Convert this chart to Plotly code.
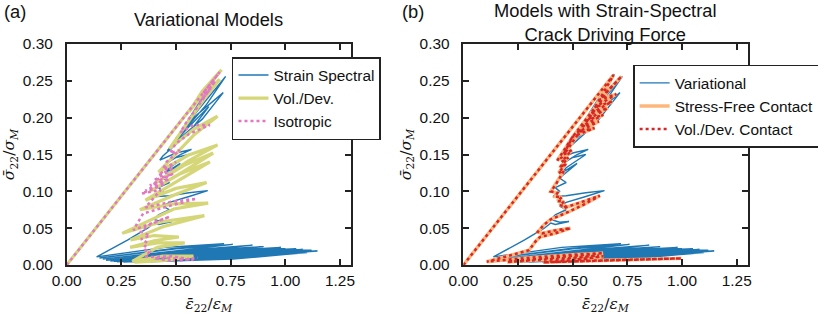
import plotly.graph_objects as go

# ---------------- data ----------------
# Panel (a) / (b): strain-spectral variational model (blue)
spec_x = [0.000, 0.690, 0.610, 0.530, 0.520, 0.600, 0.727, 0.640, 0.530, 0.500,
          0.580, 0.716, 0.620, 0.490, 0.460, 0.550, 0.650, 0.560, 0.440, 0.426,
          0.500, 0.571, 0.520, 0.455, 0.500, 0.560, 0.470, 0.450, 0.520, 0.440,
          0.470, 0.420, 0.440, 0.410, 0.470, 0.560, 0.645, 0.560, 0.470, 0.440,
          0.470, 0.420, 0.400, 0.440, 0.483, 0.420, 0.400, 0.370, 0.280, 0.137,
          0.450, 0.720, 0.480,
          0.150, 0.500, 0.760, 0.450,
          0.165, 0.550, 0.850, 0.500,
          0.180, 0.580, 0.900, 0.520,
          0.200, 0.620, 0.980, 0.560,
          0.215, 0.650, 1.050, 0.600,
          0.230, 0.700, 1.147, 0.700,
          0.260, 0.720, 1.100, 0.720,
          0.300, 0.760, 1.060, 0.760,
          0.360, 0.800, 1.020, 0.720,
          0.420, 0.800, 1.080, 0.750,
          0.400, 0.780, 1.120, 0.700,
          0.420, 0.750, 1.000, 0.650,
          0.450, 0.700, 0.950, 0.600,
          0.400, 0.650, 0.900, 0.550,
          0.450, 0.850, 1.100, 0.800,
          0.500, 0.900, 1.050, 0.850, 0.600]
spec_y = [0.000, 0.259, 0.222, 0.186, 0.180, 0.210, 0.256, 0.218, 0.180, 0.172,
          0.200, 0.234, 0.198, 0.165, 0.155, 0.185, 0.215, 0.180, 0.148, 0.1425,
          0.152, 0.157, 0.150, 0.138, 0.146, 0.150, 0.132, 0.125, 0.138, 0.118,
          0.112, 0.105, 0.100, 0.093, 0.094, 0.098, 0.101, 0.093, 0.085, 0.080,
          0.075, 0.068, 0.062, 0.058, 0.059, 0.055, 0.057, 0.050, 0.034, 0.011,
          0.024, 0.029, 0.022,
          0.0095, 0.022, 0.028, 0.018,
          0.008, 0.020, 0.027, 0.016,
          0.0065, 0.019, 0.025, 0.014,
          0.0055, 0.018, 0.024, 0.013,
          0.005, 0.017, 0.022, 0.011,
          0.0045, 0.016, 0.019, 0.010,
          0.004, 0.015, 0.018, 0.009,
          0.004, 0.014, 0.016, 0.008,
          0.0045, 0.013, 0.015, 0.008,
          0.005, 0.017, 0.021, 0.014,
          0.008, 0.020, 0.020, 0.016,
          0.010, 0.022, 0.022, 0.018,
          0.012, 0.023, 0.021, 0.015,
          0.009, 0.019, 0.019, 0.012,
          0.007, 0.016, 0.017, 0.011,
          0.009, 0.013, 0.018, 0.019, 0.020]

# Panel (a): Vol./Dev. (olive)
vd_x = [0.000, 0.708, 0.620,
        0.560, 0.630, 0.700, 0.630,
        0.470, 0.580, 0.690, 0.580,
        0.420, 0.555, 0.690, 0.555,
        0.400, 0.535, 0.670, 0.535,
        0.380, 0.520, 0.655, 0.520,
        0.360, 0.500, 0.640, 0.500,
        0.335, 0.490, 0.647, 0.490,
        0.254, 0.440, 0.630, 0.440,
        0.292, 0.400, 0.513, 0.400,
        0.290, 0.415, 0.540, 0.415,
        0.300, 0.440, 0.580, 0.440, 0.310]
vd_y = [0.000, 0.265, 0.236,
        0.208, 0.234, 0.252, 0.226,
        0.158, 0.184, 0.202, 0.176,
        0.126, 0.149, 0.163, 0.141,
        0.110, 0.135, 0.152, 0.127,
        0.100, 0.124, 0.140, 0.116,
        0.088, 0.104, 0.112, 0.096,
        0.075, 0.083, 0.084, 0.076,
        0.043, 0.059, 0.067, 0.052,
        0.034, 0.040, 0.038, 0.033,
        0.024, 0.030, 0.030, 0.024,
        0.005, 0.012, 0.012, 0.006, 0.004]

# Panel (a): Isotropic (pink dotted)
iso_x = [0.000, 0.700, 0.620, 0.660, 0.610, 0.680, 0.600, 0.550, 0.520, 0.580,
         0.655, 0.560, 0.500, 0.472, 0.518, 0.457,
         0.440, 0.500, 0.420, 0.490, 0.400, 0.487, 0.380, 0.470, 0.360, 0.450, 0.343, 0.430,
         0.360, 0.480, 0.594, 0.480, 0.350, 0.320, 0.305, 0.400, 0.472, 0.380,
         0.340, 0.380, 0.340, 0.370, 0.350, 0.380, 0.360, 0.395, 0.480, 0.580,
         0.450, 0.400, 0.500, 0.600]
iso_y = [0.000, 0.262, 0.232, 0.240, 0.222, 0.250, 0.215, 0.195, 0.180, 0.190,
         0.190, 0.178, 0.165, 0.152, 0.156, 0.140,
         0.130, 0.140, 0.122, 0.132, 0.115, 0.124, 0.108, 0.117, 0.101, 0.110, 0.097, 0.102,
         0.078, 0.086, 0.090, 0.081, 0.070, 0.055, 0.0475, 0.058, 0.0656, 0.055,
         0.045, 0.040, 0.035, 0.030, 0.022, 0.018, 0.012, 0.011, 0.012, 0.0068,
         0.010, 0.009, 0.005, 0.010]

# Panel (b): contact models (stress-free contact and vol./dev. contact coincide)
vdc_x = [0.000, 0.687, 0.600, 0.500, 0.430, 0.450, 0.500,
         0.600, 0.520, 0.620, 0.540, 0.640, 0.560, 0.660, 0.580, 0.680, 0.600,
         0.700, 0.620, 0.723, 0.660, 0.600, 0.520, 0.460,
         0.495, 0.450, 0.480, 0.440, 0.470, 0.435, 0.460, 0.440, 0.420, 0.400,
         0.430, 0.420, 0.450, 0.430, 0.460, 0.440, 0.470, 0.456,
         0.550, 0.624, 0.550, 0.480, 0.400, 0.370, 0.340, 0.360, 0.420, 0.490,
         0.420, 0.350, 0.330, 0.300, 0.107,
         0.300, 0.500, 0.639, 0.450, 0.200, 0.450, 0.620, 0.450, 0.365, 0.600,
         0.800, 0.997, 0.700, 0.500, 0.400, 0.550, 0.640, 0.500]
vdc_y = [0.000, 0.258, 0.213, 0.174, 0.142, 0.146, 0.174,
         0.186, 0.180, 0.195, 0.188, 0.204, 0.196, 0.213, 0.205, 0.222, 0.214,
         0.232, 0.224, 0.256, 0.236, 0.210, 0.176, 0.150,
         0.156, 0.140, 0.146, 0.132, 0.138, 0.125, 0.128, 0.118, 0.108, 0.100,
         0.098, 0.093, 0.092, 0.087, 0.086, 0.081, 0.080, 0.077,
         0.086, 0.094, 0.082, 0.072, 0.062, 0.055, 0.045, 0.043, 0.047, 0.050,
         0.043, 0.038, 0.032, 0.020, 0.0045,
         0.010, 0.014, 0.016, 0.011, 0.004, 0.009, 0.013, 0.007, 0.0036, 0.006,
         0.008, 0.009, 0.007, 0.005, 0.004, 0.008, 0.012, 0.007]
sfc_x = vdc_x
sfc_y = vdc_y

x_ticks = [0.00, 0.25, 0.50, 0.75, 1.00, 1.25]
y_ticks = [0.00, 0.05, 0.10, 0.15, 0.20, 0.25, 0.30]

# ---------------- styling ----------------
FONT = "Liberation Sans, Arial, Helvetica, sans-serif"
MATH = "DejaVu Serif, Liberation Serif, serif"
BLUE = "#1f77b4"
OLIVE = "#d5d678"
PINK = "#e377c2"
ORANGE = "#fdb77c"
RED = "#d62728"
INK = "#222222"

fig = go.Figure()

# Panel (a)
fig.add_trace(go.Scatter(x=spec_x, y=spec_y, mode="lines", name="Strain Spectral",
                         line=dict(color=BLUE, width=1.4), xaxis="x", yaxis="y",
                         legend="legend"))
fig.add_trace(go.Scatter(x=vd_x, y=vd_y, mode="lines", name="Vol./Dev.",
                         line=dict(color=OLIVE, width=3.2), xaxis="x", yaxis="y",
                         legend="legend"))
fig.add_trace(go.Scatter(x=iso_x, y=iso_y, mode="lines", name="Isotropic",
                         line=dict(color=PINK, width=2.5, dash="dot"), xaxis="x", yaxis="y",
                         legend="legend"))

# Panel (b)
fig.add_trace(go.Scatter(x=spec_x, y=spec_y, mode="lines", name="Variational",
                         line=dict(color=BLUE, width=1.4), xaxis="x2", yaxis="y2",
                         legend="legend2"))
fig.add_trace(go.Scatter(x=sfc_x, y=sfc_y, mode="lines", name="Stress-Free Contact",
                         line=dict(color=ORANGE, width=3.5), xaxis="x2", yaxis="y2",
                         legend="legend2"))
fig.add_trace(go.Scatter(x=vdc_x, y=vdc_y, mode="lines", name="Vol./Dev. Contact",
                         line=dict(color=RED, width=2.5, dash="dot"), xaxis="x2", yaxis="y2",
                         legend="legend2"))

xt = "<i>ε̄</i><sub>22</sub>/<i>ε</i><sub><i>M</i></sub>"
yt = "<i>σ̄</i><sub>22</sub>/<i>σ</i><sub><i>M</i></sub>"


def xax(domain, anchor):
    return dict(domain=domain, anchor=anchor, range=[0, 1.3], tickvals=x_ticks,
                tickformat=".2f", ticks="inside", ticklen=6, tickwidth=1.5, tickcolor=INK,
                showline=True, linecolor=INK, linewidth=1.5, mirror="ticks",
                showgrid=False, zeroline=False, ticklabelstandoff=1, automargin=False,
                tickfont=dict(family=FONT, size=15.4, color="#111"),
                title=dict(text=xt, font=dict(family=MATH, size=15.5, color="#111"), standoff=15))


def yax(domain, anchor):
    return dict(domain=domain, anchor=anchor, range=[0, 0.3], tickvals=y_ticks,
                tickformat=".2f", ticks="inside", ticklen=6, tickwidth=1.5, tickcolor=INK,
                showline=True, linecolor=INK, linewidth=1.5, mirror="ticks",
                showgrid=False, zeroline=False, ticklabelstandoff=9, automargin=False,
                tickfont=dict(family=FONT, size=15.4, color="#111"),
                title=dict(text=yt, font=dict(family=MATH, size=15.5, color="#111"), standoff=4))


YD = [0.1587, 0.8603]
LEG_FONT = dict(family=FONT, size=15.4, color="#111")
fig.update_layout(
    width=818, height=315,
    margin=dict(l=0, r=0, t=0, b=0, autoexpand=False),
    paper_bgcolor="white", plot_bgcolor="white",
    font=dict(family=FONT, size=15.4, color="#111"),
    xaxis=xax([0.0815, 0.429], "y"),
    yaxis=yax(YD, "x"),
    xaxis2=xax([0.5665, 0.914], "y2"),
    yaxis2=yax(YD, "x2"),
    legend=dict(x=0.2836, y=0.819, xanchor="left", yanchor="top",
                bordercolor=INK, borderwidth=1.5, bgcolor="white",
                font=LEG_FONT, tracegroupgap=0, itemwidth=30),
    legend2=dict(x=0.774, y=0.794, xanchor="left", yanchor="top",
                 bordercolor=INK, borderwidth=1.5, bgcolor="white",
                 font=LEG_FONT, tracegroupgap=0, itemwidth=30),
    annotations=[
        dict(text="(a)", x=0.002, y=0.962, xref="paper", yref="paper",
             xanchor="left", yanchor="middle", showarrow=False,
             font=dict(family=FONT, size=18.3, color="#111")),
        dict(text="(b)", x=0.489, y=0.962, xref="paper", yref="paper",
             xanchor="left", yanchor="middle", showarrow=False,
             font=dict(family=FONT, size=18.3, color="#111")),
        dict(text="Variational Models", x=0.2553, y=0.937, xref="paper", yref="paper",
             xanchor="center", yanchor="middle", showarrow=False,
             font=dict(family=FONT, size=18.3, color="#111")),
        dict(text="Models with Strain-Spectral<br>Crack Driving Force", x=0.7402, y=0.928,
             xref="paper", yref="paper", xanchor="center", yanchor="middle",
             showarrow=False, font=dict(family=FONT, size=18.3, color="#111")),
    ],
)

fig.write_html("out.html", config={"displayModeBar": False},
               post_script="document.body.style.margin='0px';document.body.style.padding='0px';")
